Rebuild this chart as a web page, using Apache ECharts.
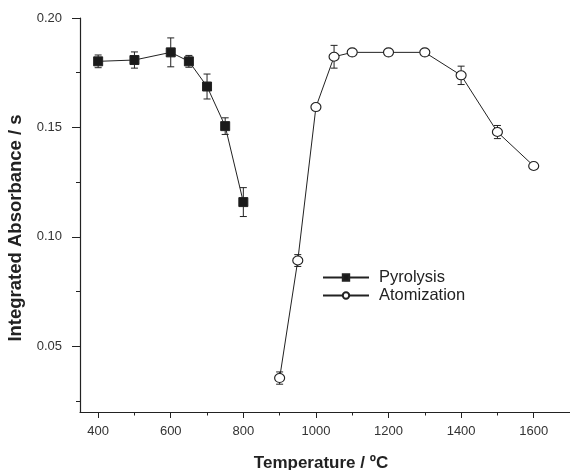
<!DOCTYPE html>
<html>
<head>
<meta charset="utf-8">
<script src="https://cdn.jsdelivr.net/npm/echarts@6/dist/echarts.min.js"></script>
<style>
  html, body { margin: 0; padding: 0; background: #fff; }
  #chart { width: 570px; height: 470px; }
</style>
</head>
<body>
<div id="chart"></div>
<script>
// Pyrolysis curve
const pyroTemp = [400, 500, 600, 650, 700, 750, 800];
const pyroAbs = [0.1802, 0.1808, 0.1843, 0.1802, 0.1687, 0.1506, 0.1159];
const pyroErr = [0.0029, 0.0037, 0.0066, 0.0027, 0.0057, 0.0038, 0.0066];

// Atomization curve
const atomTemp = [900, 950, 1000, 1050, 1100, 1200, 1300, 1400, 1500, 1600];
const atomAbs = [0.0355, 0.0892, 0.1593, 0.1823, 0.1843, 0.1843, 0.1843, 0.1738, 0.1479, 0.1324];
const atomErr = [0.0028, 0.0027, 0.0008, 0.0052, 0.0008, 0.0008, 0.0008, 0.0042, 0.0030, 0.0008];

// Ticks
const xMajor = [400, 600, 800, 1000, 1200, 1400, 1600];
const xMinor = [500, 700, 900, 1100, 1300, 1500];
const yMajor = [0.05, 0.10, 0.15, 0.20];
const yMinor = [0.025, 0.075, 0.125, 0.175];

const INK = '#222';
const FONT = '"Liberation Sans", Arial, sans-serif';

function pairs(xs, ys) {
  return xs.map((x, i) => [x, ys[i]]);
}
function triples(xs, ys, es) {
  return xs.map((x, i) => [x, ys[i], es[i]]);
}

// Error bar: vertical line with caps
function renderErr(params, api) {
  const x = api.value(0), y = api.value(1), e = api.value(2);
  const top = api.coord([x, y + e]);
  const bot = api.coord([x, y - e]);
  const w = 3.5;
  const style = { stroke: INK, lineWidth: 1 };
  return {
    type: 'group',
    children: [
      { type: 'line', shape: { x1: top[0], y1: top[1], x2: bot[0], y2: bot[1] }, style },
      { type: 'line', shape: { x1: top[0] - w, y1: top[1], x2: top[0] + w, y2: top[1] }, style },
      { type: 'line', shape: { x1: bot[0] - w, y1: bot[1], x2: bot[0] + w, y2: bot[1] }, style }
    ]
  };
}

const option = {
  animation: false,
  backgroundColor: '#fff',
  textStyle: { fontFamily: FONT },
  grid: { left: 80, right: 0, top: 18, bottom: 58, containLabel: false, outerBoundsMode: 'none' },
  legend: {
    orient: 'vertical',
    left: 322,
    top: 269,
    padding: 0,
    itemWidth: 46,
    itemHeight: 8,
    itemGap: 1,
    textStyle: { fontSize: 16.5, color: INK, fontFamily: FONT, padding: [0, 0, 0, 5] },
    data: ['Pyrolysis', 'Atomization']
  },
  xAxis: [
    {
      type: 'value',
      position: 'bottom',
      min: 350,
      max: 1700,
      name: 'Temperature / ºC',
      nameLocation: 'middle',
      nameGap: 43,
      nameTextStyle: { fontSize: 17, fontWeight: 'bold', color: INK, fontFamily: FONT, padding: [0, 8, 0, 0] },
      axisLine: { show: true, onZero: false, lineStyle: { color: INK, width: 1.2 } },
      axisTick: { show: true, length: 6, customValues: xMajor, lineStyle: { color: INK } },
      axisLabel: { customValues: xMajor, fontSize: 13, color: '#333', margin: 13, formatter: v => String(v) },
      splitLine: { show: false }
    },
    {
      type: 'value',
      position: 'bottom',
      offset: 0,
      min: 350,
      max: 1700,
      axisLine: { show: false },
      axisTick: { show: true, length: 3.5, customValues: xMinor, lineStyle: { color: INK } },
      axisLabel: { show: false },
      splitLine: { show: false }
    }
  ],
  yAxis: [
    {
      type: 'value',
      position: 'left',
      min: 0.02,
      max: 0.2,
      name: 'Integrated Absorbance / s',
      nameLocation: 'middle',
      nameGap: 53,
      nameTextStyle: { fontSize: 18.5, fontWeight: 'bold', color: INK, fontFamily: FONT, padding: [0, 26, 0, 0] },
      axisLine: { show: true, onZero: false, lineStyle: { color: INK, width: 1.2 } },
      axisTick: { show: true, length: 8, customValues: yMajor, lineStyle: { color: INK } },
      axisLabel: {
        customValues: yMajor,
        fontSize: 13,
        color: '#333',
        margin: 18,
        formatter: v => v.toFixed(2)
      },
      splitLine: { show: false }
    },
    {
      type: 'value',
      position: 'left',
      offset: 0,
      min: 0.02,
      max: 0.2,
      axisLine: { show: false },
      axisTick: { show: true, length: 4, customValues: yMinor, lineStyle: { color: INK } },
      axisLabel: { show: false },
      splitLine: { show: false }
    }
  ],
  series: [
    {
      type: 'custom',
      name: 'pyroErr',
      renderItem: renderErr,
      data: triples(pyroTemp, pyroAbs, pyroErr),
      z: 1,
      silent: true
    },
    {
      type: 'custom',
      name: 'atomErr',
      renderItem: renderErr,
      data: triples(atomTemp, atomAbs, atomErr),
      z: 1,
      silent: true
    },
    {
      name: 'Pyrolysis',
      type: 'line',
      data: pairs(pyroTemp, pyroAbs),
      symbol: 'rect',
      symbolSize: 9,
      lineStyle: { color: INK, width: 1 },
      itemStyle: { color: '#1a1a1a', borderColor: INK, borderWidth: 1 },
      z: 3
    },
    {
      name: 'Atomization',
      type: 'line',
      data: pairs(atomTemp, atomAbs),
      symbol: 'circle',
      symbolSize: [10, 9],
      lineStyle: { color: INK, width: 1 },
      itemStyle: { color: '#fff', borderColor: INK, borderWidth: 1.1 },
      z: 3
    }
  ]
};

const chart = echarts.init(document.getElementById('chart'));
chart.setOption(option);
window.addEventListener('resize', () => chart.resize());
</script>
</body>
</html>
